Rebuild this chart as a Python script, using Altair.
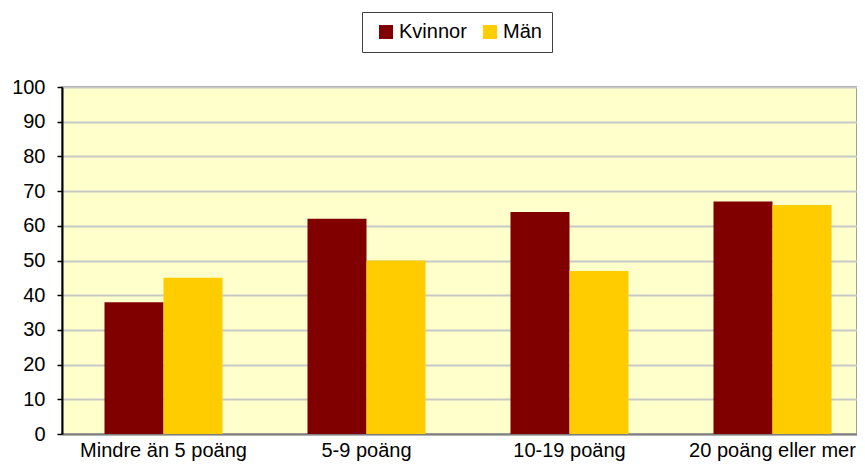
import altair as alt
import pandas as pd

categories = ["Mindre än 5 poäng", "5-9 poäng", "10-19 poäng", "20 poäng eller mer"]
series = ["Kvinnor", "Män"]
kvinnor = [38, 62, 64, 67]
man = [45, 50, 47, 66]
y_ticks = list(range(0, 101, 10))

rows = []
for c, k, m in zip(categories, kvinnor, man):
    rows.append({"kategori": c, "kon": "Kvinnor", "varde": k})
    rows.append({"kategori": c, "kon": "Män", "varde": m})
df = pd.DataFrame(rows)

FONT = "Liberation Sans"

chart = (
    alt.Chart(df)
    .mark_bar()
    .encode(
        x=alt.X(
            "kategori:N",
            sort=categories,
            scale=alt.Scale(paddingInner=0, paddingOuter=0, range=[0, 812]),
            axis=alt.Axis(
                title=None,
                labelAngle=0,
                labelFontSize=20,
                labelPadding=6,
                labelColor="#000000",
                labelBound=False,
                labelOverlap=False,
                ticks=False,
                domainColor="#808080",
                domainWidth=2,
            ),
        ),
        xOffset=alt.XOffset(
            "kon:N",
            sort=series,
            scale=alt.Scale(paddingOuter=0.72, paddingInner=0),
        ),
        y=alt.Y(
            "varde:Q",
            scale=alt.Scale(domain=[0, 100], nice=False),
            axis=alt.Axis(
                title=None,
                values=y_ticks,
                labelFontSize=20,
                labelColor="#000000",
                labelPadding=12,
                tickSize=5,
                tickColor="#000000",
                tickWidth=1.5,
                domainColor="#000000",
                domainWidth=2,
                grid=True,
                gridColor="#C8C8C8",
                gridWidth=2,
            ),
        ),
        color=alt.Color(
            "kon:N",
            sort=series,
            scale=alt.Scale(domain=series, range=["#800000", "#FFCC00"]),
            legend=alt.Legend(
                title=None,
                orient="none",
                legendX=300,
                legendY=-75,
                direction="horizontal",
                symbolType="square",
                symbolSize=196,
                symbolStrokeWidth=0,
                labelFontSize=20,
                labelColor="#000000",
                labelOffset=3,
                columnPadding=9,
                symbolOffset=4,
                padding=10,
                strokeColor="#404040",
                fillColor="#FFFFFF",
            ),
        ),
    )
    .properties(
        width=795,
        height=347,
        autosize=alt.AutoSizeParams(type="none"),
        padding={"left": 54, "top": 79, "right": 0, "bottom": 29},
    )
    .configure(font=FONT)
    .configure_view(fill="#FFFFCC", stroke="#808080", strokeWidth=1.5)
)

chart.save("out.html", embed_options={"renderer": "svg", "actions": False})
